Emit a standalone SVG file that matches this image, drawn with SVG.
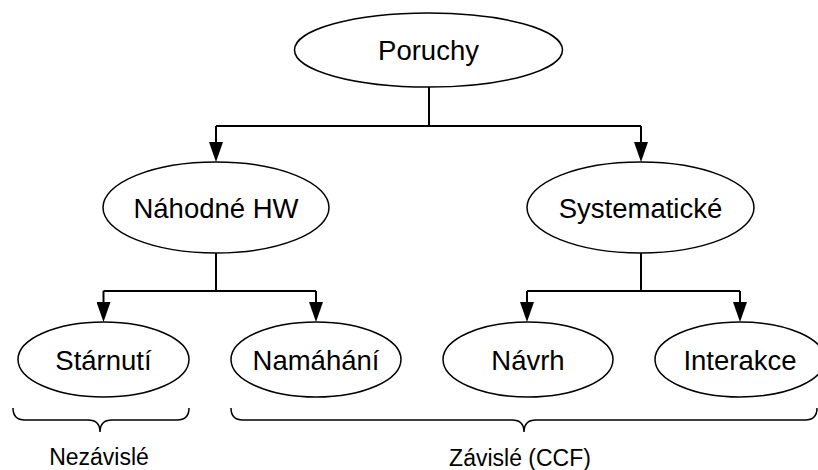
<svg xmlns="http://www.w3.org/2000/svg" width="818" height="470" viewBox="0 0 818 470">
  <style>
    .node ellipse { fill: #ffffff; stroke: #000000; stroke-width: 1.5; }
    .node text { font-family: "Liberation Sans", Arial, sans-serif; font-size: 27.5px; fill: #000000; text-anchor: middle; }
    .link { fill: none; stroke: #000000; stroke-width: 2; }
    .brace { fill: none; stroke: #000000; stroke-width: 1.5; }
    .label { font-family: "Liberation Sans", Arial, sans-serif; font-size: 23px; fill: #000000; text-anchor: middle; }
  </style>
  <defs>
    <marker id="arrow" viewBox="0 0 20 14" refX="10" refY="7" markerWidth="20" markerHeight="14" markerUnits="userSpaceOnUse" orient="auto">
      <path d="M0,0 L20,7 L0,14 Z" fill="#000000"/>
    </marker>
  </defs>

  <rect width="818" height="470" fill="#ffffff"/>

  <!-- connectors -->
  <g id="connectors">
    <path class="link" d="M429,87 V126 M216,126 H641"/>
    <path class="link" d="M216,126 V152" marker-end="url(#arrow)"/>
    <path class="link" d="M641,126 V152" marker-end="url(#arrow)"/>

    <path class="link" d="M216,253 V291 M103.5,291 H316"/>
    <path class="link" d="M103.5,291 V312" marker-end="url(#arrow)"/>
    <path class="link" d="M316,291 V312" marker-end="url(#arrow)"/>

    <path class="link" d="M641,253 V291 M527,291 H740"/>
    <path class="link" d="M527,291 V312" marker-end="url(#arrow)"/>
    <path class="link" d="M740,291 V312" marker-end="url(#arrow)"/>
  </g>

  <!-- nodes -->
  <g id="poruchy" class="node">
    <ellipse cx="428.5" cy="50" rx="134" ry="37"/>
    <text x="428.5" y="60">Poruchy</text>
  </g>
  <g id="nahodne-hw" class="node">
    <ellipse cx="216" cy="207.5" rx="113" ry="45.5"/>
    <text x="216" y="217.5">Náhodné HW</text>
  </g>
  <g id="systematicke" class="node">
    <ellipse cx="640.5" cy="207.5" rx="113.5" ry="45.5"/>
    <text x="640.5" y="217.5">Systematické</text>
  </g>
  <g id="starnuti" class="node">
    <ellipse cx="103.5" cy="359.5" rx="85.5" ry="37.5"/>
    <text x="103.5" y="369.5">Stárnutí</text>
  </g>
  <g id="namahani" class="node">
    <ellipse cx="316" cy="359.5" rx="85" ry="37.5"/>
    <text x="316" y="369.5">Namáhání</text>
  </g>
  <g id="navrh" class="node">
    <ellipse cx="528" cy="359.5" rx="85" ry="37.5"/>
    <text x="528" y="369.5">Návrh</text>
  </g>
  <g id="interakce" class="node">
    <ellipse cx="740" cy="359.5" rx="85" ry="37.5"/>
    <text x="740" y="369.5">Interakce</text>
  </g>

  <!-- group braces -->
  <g id="nezavisle">
    <path class="brace" d="M13,408 Q13,420 25,420 H88 Q100,420 100,432 Q100,420 112,420 H177 Q189,420 189,408"/>
    <text class="label" x="99" y="465">Nezávislé</text>
  </g>
  <g id="zavisle">
    <path class="brace" d="M231,408 Q231,420 243,420 H512 Q524,420 524,432 Q524,420 536,420 H805 Q817,420 817,408"/>
    <text class="label" x="520" y="466">Závislé (CCF)</text>
  </g>
</svg>
